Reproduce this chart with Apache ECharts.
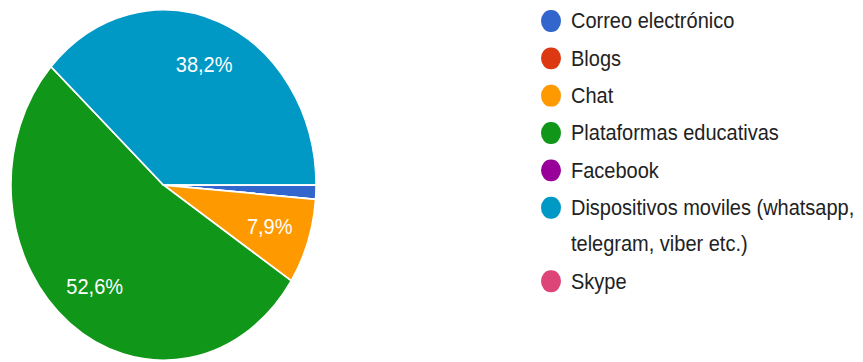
<!DOCTYPE html>
<html>
<head>
<meta charset="utf-8">
<script src="https://cdn.jsdelivr.net/npm/echarts@6/dist/echarts.min.js"></script>
<style>
  html, body { margin: 0; padding: 0; background: #fff; width: 863px; height: 362px; }
  /* the chart is drawn slightly squashed and stretched back, giving the tall oval pie */
  #chart { width: 863px; height: 315px; transform: scaleY(1.1492); transform-origin: 0 0; }
</style>
</head>
<body>
<div id="chart"></div>
<script>
// Share of answers per channel (%)
const categories = [
  'Correo electrónico',
  'Blogs',
  'Chat',
  'Plataformas educativas',
  'Facebook',
  'Dispositivos moviles (whatsapp,\ntelegram, viber etc.)',
  'Skype'
];
const shares = [1.3, 0, 7.9, 52.6, 0, 38.2, 0];
const colors = ['#3366cc', '#dc3912', '#ff9900', '#109618', '#990099', '#0099c6', '#dd4477'];

const FONT = '"Liberation Sans", Arial, sans-serif';
const LINE = 31.5;

const pieData = categories.map((name, i) => ({
  name: name,
  value: shares[i],
  itemStyle: { color: colors[i] }
}));

// rich-text dots for the legend, one per colour
const rich = {
  t: { fontFamily: FONT, fontSize: 20, color: '#222', lineHeight: LINE, padding: [0, 0, 0, 10] },
  sp: { width: 20, lineHeight: LINE }
};
colors.forEach((c, i) => {
  rich['c' + i] = { width: 20, height: 19, borderRadius: 10, backgroundColor: c, lineHeight: LINE };
});

const chart = echarts.init(document.getElementById('chart'), null, { renderer: 'svg' });
chart.setOption({
  animation: false,
  legend: {
    orient: 'vertical',
    left: 535,
    top: 2.5,
    padding: 0,
    itemGap: 1,
    icon: 'none',
    itemWidth: 1,
    itemHeight: 14,
    selectedMode: false,
    data: categories,
    formatter: function (name) {
      const idx = categories.indexOf(name);
      return name.split('\n').map((line, k) =>
        (k === 0 ? '{c' + idx + '|}' : '{sp|}') + '{t|' + line + '}'
      ).join('\n');
    },
    textStyle: {
      fontFamily: FONT,
      fontSize: 20,
      color: '#222',
      lineHeight: LINE,
      rich: rich
    }
  },
  series: [
    {
      type: 'pie',
      center: [163.5, 161],
      radius: 152.5,
      startAngle: 0,
      clockwise: true,
      silent: true,
      label: { show: false },
      labelLine: { show: false },
      itemStyle: { borderColor: '#fff', borderWidth: 1.5 },
      data: pieData
    },
    {
      // transparent ring that only carries the percentage labels
      type: 'pie',
      center: [163.5, 161],
      radius: [66, 152.5],
      startAngle: 0,
      clockwise: true,
      silent: true,
      itemStyle: { color: 'transparent' },
      label: {
        show: true,
        position: 'inside',
        color: '#fff',
        fontFamily: FONT,
        fontSize: 20,
        formatter: function (p) {
          return p.value >= 5 ? p.value.toFixed(1).replace('.', ',') + '%' : '';
        }
      },
      labelLine: { show: false },
      emphasis: { disabled: true },
      data: categories.map((name, i) => ({ name: name, value: shares[i] }))
    }
  ]
});
</script>
</body>
</html>
